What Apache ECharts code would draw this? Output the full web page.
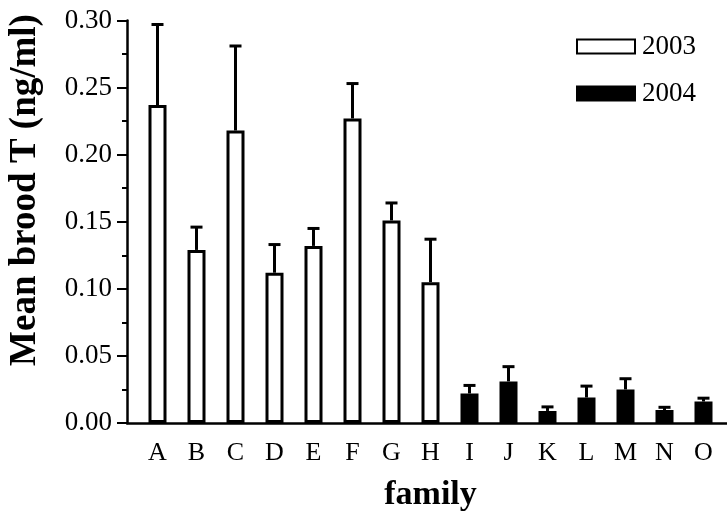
<!DOCTYPE html>
<html>
<head>
<meta charset="utf-8">
<script src="https://cdn.jsdelivr.net/npm/echarts@6/dist/echarts.min.js"></script>
<style>
  html, body { margin: 0; padding: 0; background: #fff; }
  #chart { width: 727px; height: 517px; }
</style>
</head>
<body>
<div id="chart"></div>
<script>
// Family labels along the x axis
const families = ['A','B','C','D','E','F','G','H','I','J','K','L','M','N','O'];
// Mean brood T (ng/ml) per family, 2003 families A-H, 2004 families I-O
const mean2003 = [0.237, 0.129, 0.218, 0.112, 0.132, 0.227, 0.151, 0.105, null, null, null, null, null, null, null];
const se2003   = [0.060, 0.017, 0.063, 0.021, 0.013, 0.026, 0.013, 0.032, null, null, null, null, null, null, null];
const mean2004 = [null, null, null, null, null, null, null, null, 0.022, 0.031, 0.009, 0.019, 0.025, 0.0097, 0.016];
const se2004   = [null, null, null, null, null, null, null, null, 0.006, 0.011, 0.003, 0.0085, 0.008, 0.002, 0.0025];
// y axis ticks
const yMin = 0, yMax = 0.30, yStep = 0.05;

const FONT = '"Liberation Serif", "DejaVu Serif", serif';

// error bar data: [category index, mean, standard error]
const errData = families.map((f, i) => {
  const m = mean2003[i] != null ? mean2003[i] : mean2004[i];
  const e = se2003[i] != null ? se2003[i] : se2004[i];
  return [i, m, e];
});

const chart = echarts.init(document.getElementById('chart'), null, { renderer: 'canvas' });

chart.setOption({
  backgroundColor: '#fff',
  animation: false,
  grid: [
    // frame grid: carries the y axis and the baseline
    { left: 127, right: 0, top: 20.5, bottom: 94 },
    // bar grid: inset category band
    { left: 138, width: 585, top: 20.5, bottom: 94 }
  ],
  xAxis: [
    {
      gridIndex: 0, type: 'value', min: 0, max: 1,
      axisLine: { show: true, lineStyle: { color: '#000', width: 2.5 } },
      axisTick: { show: false }, axisLabel: { show: false }, splitLine: { show: false }
    },
    {
      gridIndex: 1, type: 'category', data: families,
      axisLine: { show: false }, axisTick: { show: false }, splitLine: { show: false },
      axisLabel: { color: '#000', fontFamily: FONT, fontSize: 26, margin: 17 },
      name: 'family', nameLocation: 'middle', nameGap: 55,
      nameTextStyle: { color: '#000', fontFamily: FONT, fontSize: 34, fontWeight: 'bold' }
    }
  ],
  yAxis: [
    {
      gridIndex: 0, type: 'value', min: yMin, max: yMax, interval: yStep,
      axisLine: { show: true, lineStyle: { color: '#000', width: 2.5 } },
      axisTick: { show: true, inside: false, length: 10, lineStyle: { color: '#000', width: 2 } },
      minorTick: { show: true, splitNumber: 2, length: 5, lineStyle: { color: '#000', width: 2 } },
      splitLine: { show: false },
      axisLabel: { color: '#000', fontFamily: FONT, fontSize: 27, margin: 15,
                   formatter: v => v.toFixed(2) }
    },
    { gridIndex: 1, type: 'value', min: yMin, max: yMax, show: false }
  ],
  legend: {
    orient: 'vertical', left: 571, top: 28, itemGap: 20,
    itemWidth: 58, itemHeight: 14, icon: 'rect',
    data: ['2003', '2004'],
    textStyle: { color: '#000', fontFamily: FONT, fontSize: 27, padding: [0, 0, 0, 2] }
  },
  graphic: [{
    type: 'text', x: 25, y: 190, rotation: Math.PI / 2,
    style: {
      text: 'Mean brood T (ng/ml)', fill: '#000',
      font: 'bold 37px "Liberation Serif", "DejaVu Serif", serif',
      textAlign: 'center', textVerticalAlign: 'middle'
    }
  }],
  series: [
    {
      name: '2003', type: 'bar', xAxisIndex: 1, yAxisIndex: 1,
      data: mean2003, barWidth: 18, barGap: '-100%',
      itemStyle: { color: '#fff', borderColor: '#000', borderWidth: 3 }
    },
    {
      name: '2004', type: 'bar', xAxisIndex: 1, yAxisIndex: 1,
      data: mean2004, barWidth: 18, barGap: '-100%',
      itemStyle: { color: '#000', borderColor: '#000', borderWidth: 3 }
    },
    {
      name: 'SE', type: 'custom', xAxisIndex: 1, yAxisIndex: 1,
      data: errData, z: 3,
      renderItem: function (params, api) {
        const i = api.value(0), m = api.value(1), e = api.value(2);
        const base = api.coord([i, m]);
        const top = api.coord([i, m + e]);
        const half = 6;
        return {
          type: 'group',
          children: [
            { type: 'line', shape: { x1: base[0], y1: base[1], x2: top[0], y2: top[1] },
              style: { stroke: '#000', lineWidth: 3 } },
            { type: 'line', shape: { x1: top[0] - half, y1: top[1], x2: top[0] + half, y2: top[1] },
              style: { stroke: '#000', lineWidth: 3 } }
          ]
        };
      }
    }
  ]
});
</script>
</body>
</html>
